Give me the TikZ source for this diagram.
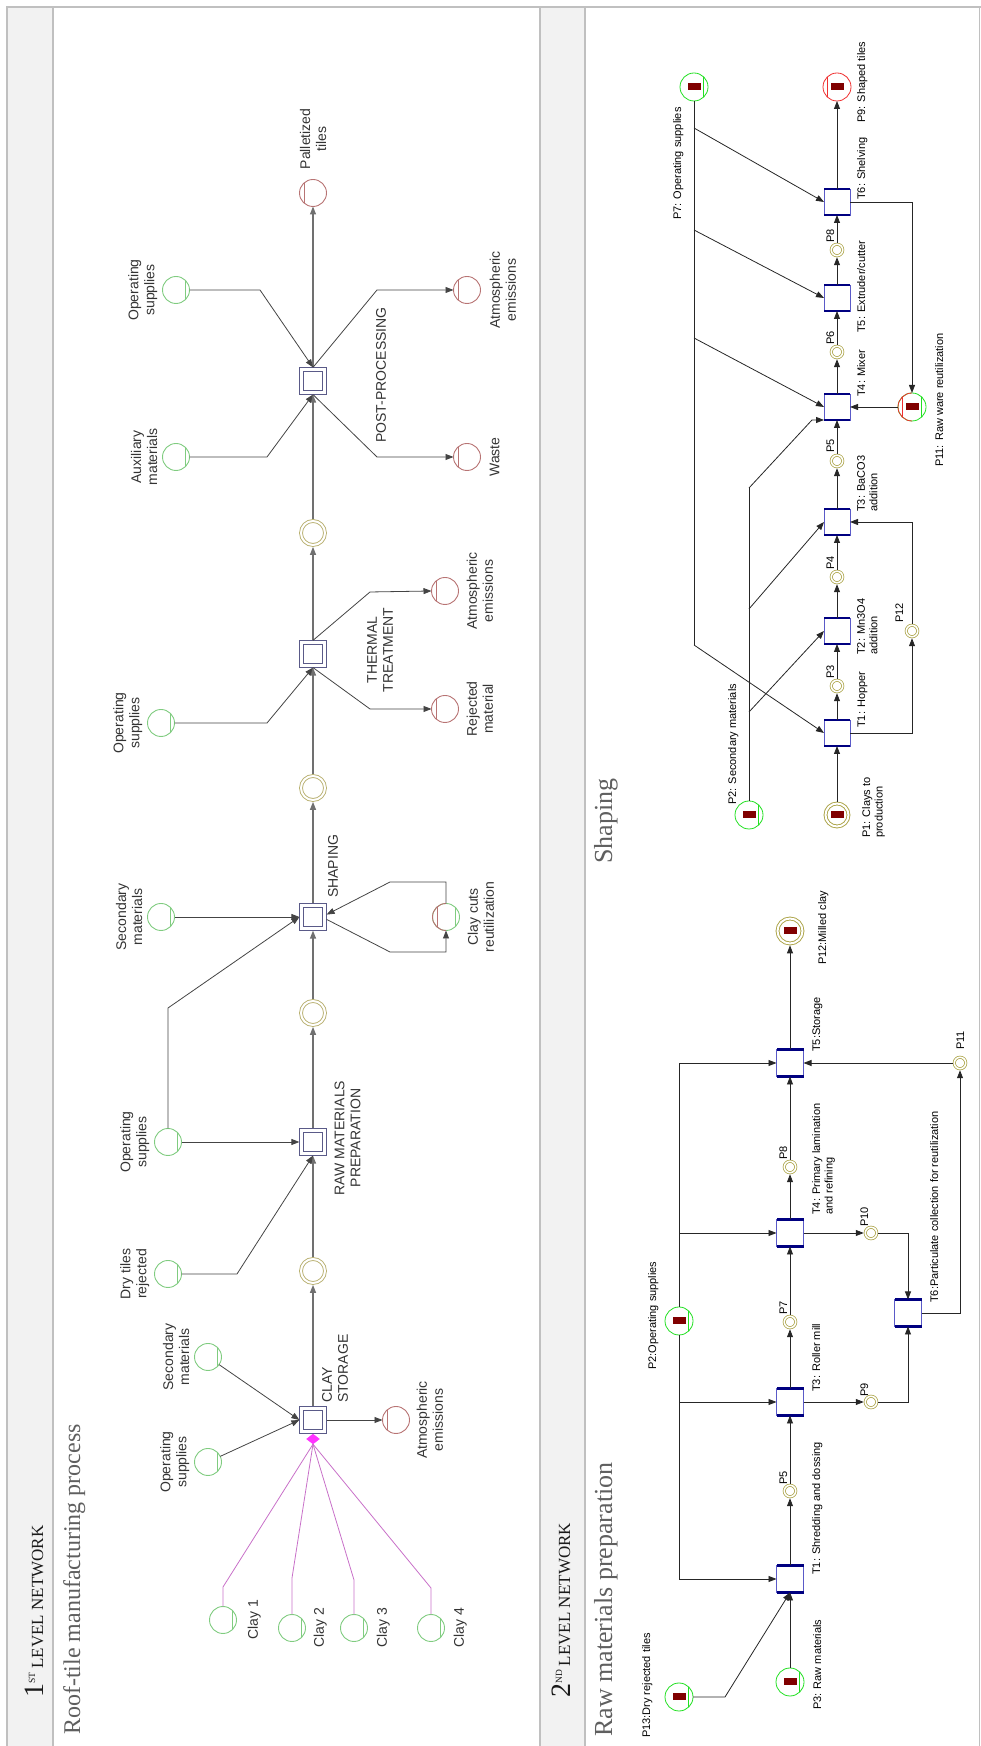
\documentclass[tikz,border=0pt]{standalone}
\usepackage{fontspec}
\setmainfont{Liberation Serif}
\setsansfont{Liberation Sans}
\usetikzlibrary{arrows.meta,positioning,shapes.geometric}

\definecolor{rulegray}{HTML}{C0C0C0}
\definecolor{bandgray}{HTML}{F2F2F2}
\definecolor{titlegray}{HTML}{5F5F5F}
\definecolor{headdark}{HTML}{1A1A1A}
\definecolor{labeldark}{HTML}{333333}
\definecolor{wiregray}{HTML}{444444}
\definecolor{axisgray}{HTML}{707070}
\definecolor{srcgreen}{HTML}{80CC80}
\definecolor{sinkred}{HTML}{B87474}
\definecolor{midolive}{HTML}{B8B070}
\definecolor{boxslate}{HTML}{5A5A88}
\definecolor{claypink}{HTML}{C870C8}
\definecolor{joinpink}{HTML}{FF33FF}
\definecolor{netgreen}{HTML}{22E022}
\definecolor{netred}{HTML}{F03030}
\definecolor{netolive}{HTML}{A8A040}
\definecolor{netnavy}{HTML}{000080}
\definecolor{netblue}{HTML}{5A5AC8}
\definecolor{tokenred}{HTML}{800000}

\tikzset{
  % first level network
  stage/.style={rectangle, draw=boxslate, fill=white, double=white, double distance=2.6pt,
    line width=0.8pt, minimum size=23pt, inner sep=0pt, outer sep=2.1pt},
  supply/.style={circle, draw=srcgreen, fill=white, line width=0.9pt, minimum size=27pt,
    inner sep=0pt, outer sep=0pt},
  sink/.style={supply, draw=sinkred},
  buffer/.style={circle, draw=midolive, double=white, double distance=2pt,
    line width=0.9pt, minimum size=24pt, inner sep=0pt, outer sep=1.9pt},
  tag/.style={font=\sffamily\fontsize{14}{16}\selectfont, text=labeldark,
    align=center, inner sep=0pt},
  feed/.style={draw=wiregray, line width=0.8pt, -{Triangle[length=8pt,width=6pt]}},
  flow/.style={draw=axisgray, line width=1.3pt, -{Triangle[length=8pt,width=6pt]}},
  claylink/.style={draw=claypink, line width=0.8pt},
  % second level network
  trans/.style={rectangle, draw=netblue, fill=white, line width=0.7pt,
    minimum size=27pt, inner sep=0pt, outer sep=0pt},
  inplace/.style={circle, draw=netgreen, fill=white, line width=0.8pt, minimum size=28pt,
    inner sep=0pt, outer sep=0pt},
  outplace/.style={inplace, draw=netred},
  relay/.style={circle, draw=netolive, double=white, double distance=1.6pt,
    line width=0.7pt, minimum size=11.5pt, inner sep=0pt, outer sep=1.5pt},
  silo/.style={relay, double distance=2pt, line width=0.9pt, minimum size=23pt, outer sep=1.9pt},
  token/.style={rectangle, fill=tokenred, minimum width=7pt, minimum height=13pt, inner sep=0pt},
  pname/.style={font=\sffamily\fontsize{11}{12.5}\selectfont, text=black, inner sep=0pt, align=left},
  net/.style={draw=black!85, line width=0.8pt, -{Triangle[length=8pt,width=6pt]}},
  netline/.style={draw=black!85, line width=0.8pt},
}

% chord lines of the place symbols
\newcommand\lowchord[2]{\draw[#2, line width=0.8pt] (#1.-138) -- (#1.-42);}
\newcommand\highchord[2]{\draw[#2, line width=0.8pt] (#1.138) -- (#1.42);}
\newcommand\sidebars[1]{\draw[netnavy, line width=2.6pt] (#1.south west) -- (#1.north west) (#1.south east) -- (#1.north east);}

\begin{document}
\begin{tikzpicture}[x=1pt, y=1pt]
\begin{scope}[rotate=90, transform shape]
\useasboundingbox (0,0) rectangle (1746,-981);

% Table frame
\fill[bandgray] (0,-7) rectangle (1739,-53);
\fill[bandgray] (0,-540) rectangle (1739,-585);
\draw[rulegray, line width=1.5pt] (0,-7) -- (1739,-7) -- (1739,-981);
\draw[rulegray, line width=1.5pt] (0,-53) -- (1739,-53);
\draw[rulegray, line width=1.5pt] (0,-540) -- (1739,-540);
\draw[rulegray, line width=1.5pt] (0,-585) -- (1739,-585);
\draw[rulegray, line width=1.5pt] (0,-979.5) -- (1739,-979.5);

% Headings
\node[anchor=base west, inner sep=0pt, text=headdark] (head1) at (48,-43)
  {\fontsize{28}{28}\selectfont 1\raisebox{8pt}{\fontsize{9.5}{9.5}\selectfont ST}\hspace{4pt}\fontsize{17}{17}\selectfont LEVEL NETWORK};
\node[anchor=base west, inner sep=0pt, text=titlegray, font=\fontsize{24}{26}\selectfont] (title1) at (11,-80)
  {Roof-tile manufacturing process};
\node[anchor=base west, inner sep=0pt, text=headdark] (head2) at (48,-570)
  {\fontsize{28}{28}\selectfont 2\raisebox{8pt}{\fontsize{9.5}{9.5}\selectfont ND}\hspace{4pt}\fontsize{17}{17}\selectfont LEVEL NETWORK};
\node[anchor=base west, inner sep=0pt, text=titlegray, font=\fontsize{26}{28}\selectfont] (title2) at (9,-612)
  {Raw materials preparation};
\node[anchor=base west, inner sep=0pt, text=titlegray, font=\fontsize{26}{28}\selectfont] (title3) at (882,-612)
  {Shaping};

% ---------------- 1st level: stages and buffers
\node[stage] (tclay) at (326,-313) {};
\node[buffer] (pa) at (475,-313) {};
\node[stage] (trmp) at (604,-313) {};
\node[buffer] (pb) at (733,-313) {};
\node[stage] (tshape) at (829,-313) {};
\node[buffer] (pc) at (958,-313) {};
\node[stage] (ttherm) at (1092,-313) {};
\node[buffer] (pd) at (1213,-313) {};
\node[stage] (tpost) at (1365,-313) {};
\node[sink] (pallet) at (1553,-313) {};

% Clay storage
\node[supply] (opsA) at (284,-208) {};
\node[supply] (secA) at (389,-208) {};
\node[sink] (atmA) at (326,-396) {};
\node[supply] (clay1) at (126,-223) {};
\node[supply] (clay2) at (118,-292) {};
\node[supply] (clay3) at (118,-354) {};
\node[supply] (clay4) at (118,-431) {};
\node[diamond, fill=joinpink, draw=joinpink, minimum width=10pt, minimum height=13pt, inner sep=0pt] (join) at (307,-313) {};

% Raw materials preparation
\node[supply] (dryR) at (472,-168) {};
\node[supply] (opsR) at (604,-168) {};

% Shaping
\node[supply] (secS) at (829,-161) {};
\node[supply] (clayCut) at (829,-446) {};
\draw[sinkred, line width=0.9pt] (clayCut.west) arc[start angle=180, end angle=0, radius=13.5pt];

% Thermal treatment
\node[supply] (opsT) at (1023,-161) {};
\node[sink] (rejT) at (1037,-445) {};
\node[sink] (atmT) at (1155,-445) {};

% Post-processing
\node[supply] (auxP) at (1289,-176) {};
\node[supply] (opsP) at (1456,-176) {};
\node[sink] (wasteP) at (1289,-467) {};
\node[sink] (atmP) at (1456,-467) {};

% chords
\foreach \p in {opsA,secA,clay1,clay2,clay3,clay4,dryR,opsR,secS,clayCut,opsT,auxP,opsP}
  {\lowchord{\p}{srcgreen}}
\foreach \p in {pallet,atmA,clayCut,rejT,atmT,wasteP,atmP}
  {\highchord{\p}{sinkred}}

% 1st level connectors
\draw[flow] (tclay.east) -- (pa.west);
\draw[flow] (pa.east) -- (trmp.west);
\draw[flow] (trmp.east) -- (pb.west);
\draw[flow] (pb.east) -- (tshape.west);
\draw[flow] (tshape.east) -- (pc.west);
\draw[flow] (pc.east) -- (ttherm.west);
\draw[flow] (ttherm.east) -- (pd.west);
\draw[flow] (pd.east) -- (tpost.west);
\draw[flow] (tpost.east) -- (pallet.west);

\draw[feed] (opsA) -- (tclay.north);
\draw[feed] (secA) -- (tclay.north);
\draw[feed] (tclay.south) -- (atmA.north);
\draw[claylink] (clay1.east) -- ++(19.5,0) -- (join.west);
\draw[claylink] (clay2.east) -- ++(36.5,0) -- (join.west);
\draw[claylink] (clay3.east) -- ++(34.5,0) -- (join.west);
\draw[claylink] (clay4.east) -- ++(26.5,0) -- (join.west);

\draw[feed] (dryR.south) -- ++(0,-55.5) -- (trmp.west);
\draw[feed] (opsR.south) -- (trmp.north);
\draw[feed] (opsR.east) -- ++(120.5,0) -- (tshape.north);

\draw[feed] (secS.south) -- (tshape.north);
\draw[feed] (tshape.-100) -- (794,-390) -- (794,-446) -- (clayCut.west);
\draw[feed] (clayCut.east) -- (864,-446) -- (864,-390) -- (tshape.-80);

\draw[feed] (opsT.south) -- (1023,-267) -- (ttherm.west);
\draw[feed] (ttherm.west) -- (1037,-370) -- (rejT.north);
\draw[feed] (ttherm.east) -- (1154,-370) -- (atmT.north);

\draw[feed] (auxP.south) -- (1289,-267) -- (tpost.west);
\draw[feed] (opsP.south) -- (1456,-260) -- (tpost.east);
\draw[feed] (tpost.west) -- (1289,-377) -- (wasteP.north);
\draw[feed] (tpost.east) -- (1456,-377) -- (atmP.north);

% 1st level labels
\node[tag, above=5pt of opsA] (opsAtag) {Operating\\supplies};
\node[tag, above=5pt of secA] (secAtag) {Secondary\\materials};
\node[tag, below=7pt of atmA] (atmAtag) {Atmospheric\\emissions};
\node[tag, below=11pt of clay1] (clay1tag) {Clay 1};
\node[tag, below=8pt of clay2] (clay2tag) {Clay 2};
\node[tag, below=9pt of clay3] (clay3tag) {Clay 3};
\node[tag, below=9pt of clay4] (clay4tag) {Clay 4};
\node[tag, align=left, anchor=north west] (tclaytag) at (343,-322) {CLAY\\STORAGE};
\node[tag] (trmptag) at (608,-347.5) {RAW MATERIALS\\PREPARATION};
\node[tag, above=5pt of dryR] (dryRtag) {Dry tiles\\rejected};
\node[tag, above=5pt of opsR] (opsRtag) {Operating\\supplies};
\node[tag, anchor=north west] (tshapetag) at (848,-328) {SHAPING};
\node[tag, above=5pt of secS] (secStag) {Secondary\\materials};
\node[tag, below=8pt of clayCut] (clayCuttag) {Clay cuts\\reutilization};
\node[tag, above=5pt of opsT] (opsTtag) {Operating\\supplies};
\node[tag, below=8pt of rejT] (rejTtag) {Rejected\\material};
\node[tag, below=8pt of atmT] (atmTtag) {Atmospheric\\emissions};
\node[tag] (tthermtag) at (1096,-380) {THERMAL\\TREATMENT};
\node[tag, above=5pt of auxP] (auxPtag) {Auxiliary\\materials};
\node[tag, above=5pt of opsP] (opsPtag) {Operating\\supplies};
\node[tag, below=9pt of wasteP] (wastePtag) {Waste};
\node[tag, below=9pt of atmP] (atmPtag) {Atmospheric\\emissions};
\node[tag] (tposttag) at (1371,-381) {POST-PROCESSING};
\node[tag, right=10pt of pallet] (pallettag) {Palletized\\tiles};

% ---------------- 2nd level: raw materials preparation
\node[inplace] (rp13) at (49,-679) {};
\node[inplace] (rp3) at (64,-790) {};
\node[trans] (rt1) at (167,-790) {};
\node[relay] (rp5) at (255,-790) {};
\node[trans] (rt3) at (344,-790) {};
\node[relay] (rp7) at (424,-790) {};
\node[trans] (rt4) at (513,-790) {};
\node[relay] (rp8) at (579,-790) {};
\node[trans] (rt5) at (683,-790) {};
\node[silo, minimum size=25pt] (rp12) at (815,-790) {};
\node[inplace] (rp2) at (425,-679) {};
\node[relay] (rp9) at (344,-871) {};
\node[relay] (rp10) at (513,-871) {};
\node[trans] (rt6) at (433,-908) {};
\node[relay] (rp11) at (683,-960) {};

\foreach \t in {rt1,rt3,rt4,rt5,rt6} {\sidebars{\t}}
\foreach \p in {rp13,rp3,rp2} {\lowchord{\p}{netgreen}}
\foreach \p in {rp13,rp3,rp2,rp12} {\node[token] (\p tok) at (\p) {};}

\draw[net] (rp3.east) -- (rt1.west);
\draw[net] (rp13.south) -- ++(0,-32) -- (rt1.west);
\draw[net] (rp2.west) -| (rt1.north);
\draw[net] (rt3 |- rp2) -- (rt3.north);
\draw[net] (rp2.east) -| (rt5.north);
\draw[net] (rt4 |- rp2) -- (rt4.north);
\draw[net] (rt1.east) -- (rp5.west);
\draw[net] (rp5.east) -- (rt3.west);
\draw[net] (rt3.east) -- (rp7.west);
\draw[net] (rp7.east) -- (rt4.west);
\draw[net] (rt4.east) -- (rp8.west);
\draw[net] (rp8.east) -- (rt5.west);
\draw[net] (rt5.east) -- (rp12.west);
\draw[net] (rt3.south) -- (rp9.north);
\draw[net] (rp9.south) |- (rt6.west);
\draw[net] (rt4.south) -- (rp10.north);
\draw[net] (rp10.south) |- (rt6.east);
\draw[net] (rt6.south) |- (rp11.west);
\draw[net] (rp11.north) -- (rt5.south);

\node[pname, anchor=base west] (rp13tag) at (8,-650) {P13:Dry rejected tiles};
\node[pname, anchor=base west] (rp3tag) at (36,-821) {P3: Raw materials};
\node[pname, anchor=base west] (rp2tag) at (376,-656) {P2:Operating supplies};
\node[pname, anchor=base west] (rt1tag) at (171,-820) {T1: Shredding and dossing};
\node[pname, anchor=base west] (rp5tag) at (261,-787) {P5};
\node[pname, anchor=base west] (rt3tag) at (354,-820) {T3: Roller mill};
\node[pname, anchor=base west] (rp7tag) at (431,-787) {P7};
\node[pname, anchor=base west] (rp9tag) at (349,-868) {P9};
\node[pname, anchor=north west] (rt4tag) at (531,-812) {T4: Primary lamination\\ and refining};
\node[pname, anchor=base west] (rp8tag) at (586,-787) {P8};
\node[pname, anchor=base west] (rp10tag) at (519,-868) {P10};
\node[pname, anchor=base west] (rt5tag) at (694,-820) {T5:Storage};
\node[pname, anchor=base west] (rp11tag) at (696,-964) {P11};
\node[pname, anchor=base west] (rt6tag) at (443,-938) {T6:Particulate collection for reutilization};
\node[pname, anchor=base west] (rp12tag) at (781,-826) {P12:Milled clay};

% ---------------- 2nd level: shaping
\node[silo] (sp1) at (931,-837) {};
\node[inplace] (sp2) at (931,-749) {};
\node[trans, minimum size=26pt] (st1) at (1013,-837) {};
\node[relay] (sp3) at (1060,-837) {};
\node[trans, minimum size=26pt] (st2) at (1115,-837) {};
\node[relay] (sp4) at (1169,-837) {};
\node[trans, minimum size=26pt] (st3) at (1224,-837) {};
\node[relay] (sp5) at (1285,-837) {};
\node[trans, minimum size=26pt] (st4) at (1339,-837) {};
\node[relay] (sp6) at (1394,-837) {};
\node[trans, minimum size=26pt] (st5) at (1448,-837) {};
\node[relay] (sp8) at (1496,-837) {};
\node[trans, minimum size=26pt] (st6) at (1544,-837) {};
\node[outplace] (sp9) at (1659,-837) {};
\node[inplace] (sp7) at (1659,-694) {};
\node[inplace] (sp11) at (1339,-912) {};
\draw[netred, line width=0.8pt] (sp11.west) arc[start angle=180, end angle=0, radius=14pt];
\node[relay] (sp12) at (1115,-912) {};

\foreach \t in {st1,st2,st3,st4,st5,st6} {\sidebars{\t}}
\foreach \p in {sp2,sp7,sp11} {\lowchord{\p}{netgreen}}
\foreach \p in {sp9,sp11} {\highchord{\p}{netred}}
\foreach \p in {sp1,sp2,sp7,sp9,sp11} {\node[token] (\p tok) at (\p) {};}

\draw[net] (sp1.east) -- (st1.west);
\draw[net] (st1.east) -- (sp3.west);
\draw[net] (sp3.east) -- (st2.west);
\draw[net] (st2.east) -- (sp4.west);
\draw[net] (sp4.east) -- (st3.west);
\draw[net] (st3.east) -- (sp5.west);
\draw[net] (sp5.east) -- (st4.west);
\draw[net] (st4.east) -- (sp6.west);
\draw[net] (sp6.east) -- (st5.west);
\draw[net] (st5.east) -- (sp8.west);
\draw[net] (sp8.east) -- (st6.west);
\draw[net] (st6.east) -- (sp9.west);

\draw[netline] (sp2.east) -- (1258,-749);
\draw[net] (1034,-749) -- (st2.north);
\draw[net] (1137,-749) -- (st3.north);
\draw[net] (1258,-749) -- (1326,-812) -- (st4.north west);
\draw[netline] (sp7.west) -- (1101,-694);
\draw[net] (1101,-694) -- (st1.north);
\draw[net] (1408,-694) -- (st4.north);
\draw[net] (1516,-694) -- (st5.north);
\draw[net] (1618,-694) -- (st6.north);
\draw[net] (st1.south) |- (sp12.west);
\draw[net] (sp12.east) -| (st3.south);
\draw[net] (st6.south) |- (sp11.east);
\draw[net] (sp11.north) -- (st4.south);

\node[pname, anchor=base west] (sp2tag) at (941,-736) {P2: Secondary materials};
\node[pname, anchor=north west] (sp1tag) at (908,-862) {P1: Clays to\\ production};
\node[pname, anchor=base west] (st1tag) at (1018,-865) {T1: Hopper};
\node[pname, anchor=base west] (sp3tag) at (1067,-834) {P3};
\node[pname, anchor=north west] (st2tag) at (1091,-857) {T2: Mn3O4\\ addition};
\node[pname, anchor=base west] (sp4tag) at (1176,-834) {P4};
\node[pname, anchor=north west] (st3tag) at (1234,-857) {T3: BaCO3\\ addition};
\node[pname, anchor=base west] (sp5tag) at (1293,-834) {P5};
\node[pname, anchor=base west] (st4tag) at (1349,-865) {T4: Mixer};
\node[pname, anchor=base west] (sp6tag) at (1401,-834) {P6};
\node[pname, anchor=base west] (st5tag) at (1413,-865) {T5: Extruder/cutter};
\node[pname, anchor=base west] (sp8tag) at (1503,-834) {P8};
\node[pname, anchor=base west] (st6tag) at (1546,-865) {T6: Shelving};
\node[pname, anchor=base west] (sp9tag) at (1623,-865) {P9: Shaped tiles};
\node[pname, anchor=base west] (sp7tag) at (1526,-681) {P7: Operating supplies};
\node[pname, anchor=base west] (sp11tag) at (1279,-943) {P11: Raw ware reutilization};
\node[pname, anchor=base west] (sp12tag) at (1123,-903) {P12};

\end{scope}
\end{tikzpicture}
\end{document}
